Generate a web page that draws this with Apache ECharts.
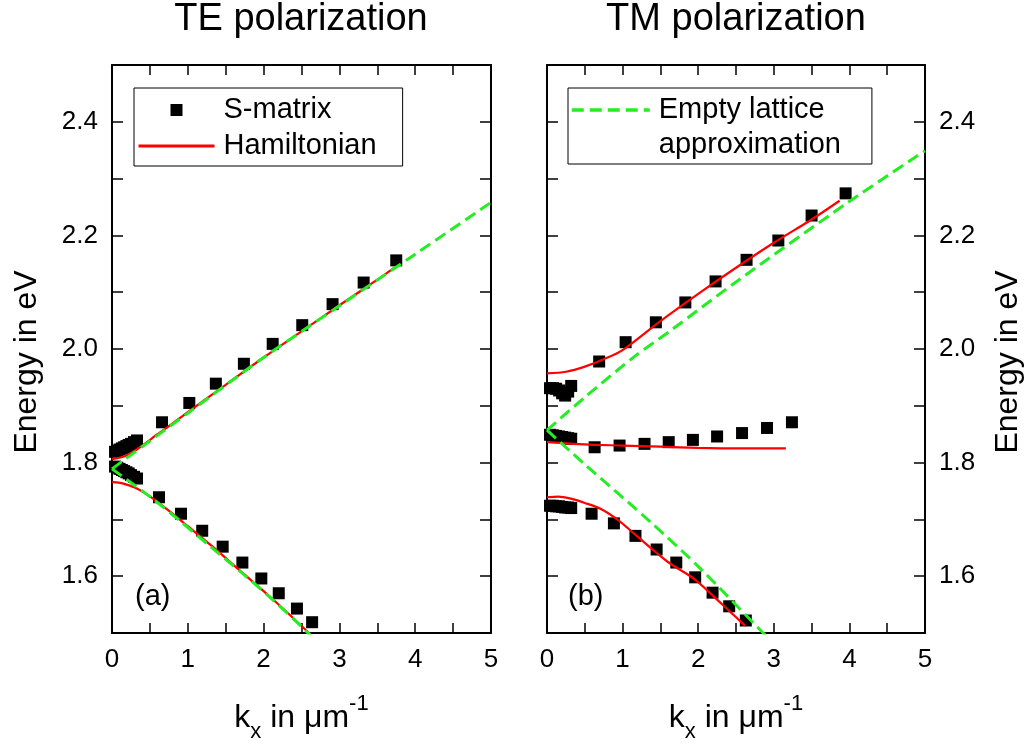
<!DOCTYPE html>
<html>
<head>
<meta charset="utf-8">
<title>TE / TM polarization</title>
<script src="https://cdn.jsdelivr.net/npm/echarts@6/dist/echarts.min.js"></script>
<style>
  html, body { margin: 0; padding: 0; background: #fff; }
  #main { width: 1032px; height: 747px; }
</style>
</head>
<body>
<div id="main"></div>
<script>
// ---- values (k_x in 1/um, energy in eV) ----

// (a) TE polarization
var teSmUpX = [0.04, 0.07, 0.10, 0.13, 0.16, 0.19, 0.22, 0.25, 0.29, 0.33, 0.66, 1.02, 1.37, 1.74, 2.12, 2.51, 2.91, 3.32, 3.75];
var teSmUpY = [1.819, 1.821, 1.823, 1.825, 1.827, 1.829, 1.831, 1.833, 1.836, 1.839, 1.871, 1.905, 1.939, 1.974, 2.009, 2.042, 2.079, 2.117, 2.156];
var teSmLoX = [0.04, 0.07, 0.10, 0.13, 0.16, 0.19, 0.22, 0.25, 0.29, 0.33, 0.62, 0.91, 1.19, 1.46, 1.72, 1.97, 2.20, 2.44, 2.64];
var teSmLoY = [1.793, 1.791, 1.789, 1.787, 1.785, 1.783, 1.781, 1.778, 1.775, 1.772, 1.739, 1.710, 1.680, 1.652, 1.624, 1.596, 1.570, 1.543, 1.519];

var teHamUpX = [0, 0.2, 0.4, 0.6, 0.8, 1.0, 1.5, 2.0, 2.5, 3.0, 3.5, 3.72];
var teHamUpY = [1.806, 1.813, 1.830, 1.850, 1.869, 1.889, 1.937, 1.985, 2.031, 2.077, 2.122, 2.143];
var teHamLoX = [0, 0.15, 0.3, 0.45, 0.6, 0.8, 1.0, 1.3, 1.73, 2.1, 2.48, 2.65];
var teHamLoY = [1.766, 1.763, 1.756, 1.745, 1.731, 1.710, 1.688, 1.655, 1.605, 1.562, 1.515, 1.493];

var teEmptyUpX = [0, 1, 2, 3, 4, 5];
var teEmptyUpY = [1.789, 1.887, 1.985, 2.076, 2.167, 2.258];
var teEmptyLoX = [0, 0.5, 0.9, 1.3, 1.73, 2.1, 2.48, 2.7];
var teEmptyLoY = [1.789, 1.740, 1.697, 1.652, 1.604, 1.561, 1.514, 1.485];

// (b) TM polarization
var tmSmUpX = [0.04, 0.08, 0.12, 0.16, 0.20, 0.24, 0.28, 0.32, 0.69, 1.04, 1.44, 1.83, 2.23, 2.64, 3.06, 3.50, 3.95];
var tmSmUpY = [1.931, 1.931, 1.930, 1.927, 1.922, 1.918, 1.925, 1.935, 1.978, 2.012, 2.047, 2.082, 2.119, 2.157, 2.191, 2.235, 2.274];
var tmSmMidX = [0.04, 0.08, 0.12, 0.16, 0.20, 0.24, 0.28, 0.32, 0.63, 0.96, 1.29, 1.61, 1.93, 2.25, 2.58, 2.91, 3.24];
var tmSmMidY = [1.849, 1.848, 1.847, 1.846, 1.845, 1.844, 1.843, 1.842, 1.827, 1.830, 1.833, 1.836, 1.840, 1.846, 1.852, 1.861, 1.871];
var tmSmLoX = [0.04, 0.08, 0.12, 0.16, 0.20, 0.24, 0.28, 0.32, 0.59, 0.885, 1.17, 1.45, 1.71, 1.96, 2.19, 2.41, 2.63];
var tmSmLoY = [1.724, 1.724, 1.723, 1.723, 1.722, 1.721, 1.721, 1.720, 1.710, 1.693, 1.671, 1.647, 1.624, 1.598, 1.571, 1.547, 1.522];

var tmHamUpX = [0, 0.25, 0.5, 0.75, 1.0, 1.5, 2.0, 2.5, 3.0, 3.5, 3.87];
var tmHamUpY = [1.957, 1.960, 1.969, 1.982, 1.998, 2.049, 2.097, 2.143, 2.187, 2.228, 2.261];
var tmHamMidX = [0, 0.5, 1.0, 1.5, 2.0, 2.5, 3.0, 3.16];
var tmHamMidY = [1.836, 1.832, 1.830, 1.828, 1.826, 1.825, 1.825, 1.825];
var tmHamLoX = [0, 0.15, 0.3, 0.5, 0.72, 0.95, 1.16, 1.6, 1.95, 2.2, 2.41, 2.62];
var tmHamLoY = [1.739, 1.740, 1.737, 1.729, 1.718, 1.698, 1.674, 1.625, 1.595, 1.565, 1.539, 1.513];

var tmEmptyUpX = [0, 0.5, 1.16, 1.64, 2.5, 3.98, 5];
var tmEmptyUpY = [1.857, 1.915, 1.987, 2.033, 2.118, 2.258, 2.349];
var tmEmptyLoX = [0, 0.5, 1.38, 2.04, 2.83, 2.92];
var tmEmptyLoY = [1.857, 1.797, 1.694, 1.612, 1.504, 1.492];

// axis ticks
var kTicks = [0, 1, 2, 3, 4, 5];
var eMin = 1.5, eMax = 2.5, eStep = 0.1;

// ---- chart ----
var FONT = "'Liberation Sans', Arial, sans-serif";
var RED = '#ff0000';
var GREEN = '#22ee22';
var SQUARE = 'path://M0,0H10V10H0Z';
var NO_DOT = { opacity: 0, borderWidth: 0 };

function pairs(xs, ys) {
  return xs.map(function (x, i) { return [x, ys[i]]; });
}

function energyLabel(v) {
  // only every other tick (1.6, 1.8, ...) carries a number
  return Math.round(v * 10) % 2 === 0 ? v.toFixed(1) : '';
}

var axisLine = { show: true, onZero: false, lineStyle: { color: '#000', width: 2 } };
var tickLine = { color: '#000', width: 1.5 };

function kAxis(grid, pos, withLabels) {
  var ax = {
    type: 'value', gridIndex: grid, position: pos,
    min: kTicks[0], max: kTicks[kTicks.length - 1], interval: 1,
    axisLine: axisLine,
    axisTick: { show: true, inside: true, length: 10, lineStyle: tickLine },
    minorTick: { show: true, splitNumber: 2, length: 10, lineStyle: tickLine },
    axisLabel: { show: withLabels, margin: 14, fontSize: 26, color: '#000', fontFamily: FONT },
    splitLine: { show: false },
    minorSplitLine: { show: false }
  };
  if (withLabels) {
    ax.name = '{k|k}{s|x}{k| in μm}{p|-1}';
    ax.nameLocation = 'middle';
    ax.nameGap = 60;
    ax.nameTextStyle = {
      fontFamily: FONT, color: '#000',
      rich: {
        k: { fontSize: 32, lineHeight: 50, fontFamily: FONT, color: '#000' },
        s: { fontSize: 22, lineHeight: 16, verticalAlign: 'bottom', fontFamily: FONT, color: '#000' },
        p: { fontSize: 22, lineHeight: 20, verticalAlign: 'top', fontFamily: FONT, color: '#000' }
      }
    };
  }
  return ax;
}

function eAxis(grid, pos, withLabels, gap) {
  var ax = {
    type: 'value', gridIndex: grid, position: pos,
    min: eMin, max: eMax, interval: eStep,
    axisLine: axisLine,
    axisTick: { show: true, inside: true, length: 11, lineStyle: tickLine },
    axisLabel: { show: withLabels, margin: 14, fontSize: 26, color: '#000', fontFamily: FONT, formatter: energyLabel },
    splitLine: { show: false }
  };
  if (withLabels) {
    ax.name = 'Energy in eV';
    ax.nameLocation = 'middle';
    ax.nameRotate = 90;
    ax.nameGap = gap;
    ax.nameTextStyle = { fontSize: 32, fontFamily: FONT, color: '#000', padding: [0, 26, 0, 0] };
  }
  return ax;
}

function squares(x, y, data) {
  return {
    name: 'S-matrix', type: 'scatter', xAxisIndex: x, yAxisIndex: y,
    symbol: 'rect', symbolSize: 12, itemStyle: { color: '#000', opacity: 1 },
    data: data, z: 3
  };
}

function hamiltonian(x, y, data) {
  return {
    name: 'Hamiltonian', type: 'line', xAxisIndex: x, yAxisIndex: y,
    smooth: 0.3, symbol: 'none', lineStyle: { color: RED, width: 2.2 },
    itemStyle: { color: RED }, data: data, z: 4
  };
}

function emptyLattice(x, y, data) {
  return {
    name: 'Empty lattice approximation', type: 'line', xAxisIndex: x, yAxisIndex: y,
    smooth: 0.3, symbol: 'none',
    lineStyle: { color: GREEN, width: 3, type: [12, 6] },
    itemStyle: { color: GREEN }, data: data, z: 5
  };
}

var chart = echarts.init(document.getElementById('main'), null, { renderer: 'canvas' });

chart.setOption({
  animation: false,
  backgroundColor: '#fff',
  textStyle: { fontFamily: FONT },
  title: [
    { text: 'TE polarization', left: 301, top: 20, padding: 0, textAlign: 'center', textVerticalAlign: 'middle',
      textStyle: { fontSize: 38, fontWeight: 'normal', color: '#000', fontFamily: FONT } },
    { text: 'TM polarization', left: 736, top: 20, padding: 0, textAlign: 'center', textVerticalAlign: 'middle',
      textStyle: { fontSize: 38, fontWeight: 'normal', color: '#000', fontFamily: FONT } }
  ],
  grid: [
    { left: 112, top: 65, width: 379, height: 568, containLabel: false, outerBoundsMode: 'none' },
    { left: 547, top: 65, width: 378, height: 568, containLabel: false, outerBoundsMode: 'none' }
  ],
  xAxis: [
    kAxis(0, 'bottom', true),
    kAxis(0, 'top', false),
    kAxis(1, 'bottom', true),
    kAxis(1, 'top', false)
  ],
  yAxis: [
    eAxis(0, 'left', true, 69),
    eAxis(0, 'right', false),
    eAxis(1, 'left', false),
    eAxis(1, 'right', true, 67)
  ],
  legend: [
    {
      orient: 'vertical', left: 134, top: 88,
      padding: [7, 26, 5, 3], itemGap: 6, itemWidth: 76, itemHeight: 12,
      backgroundColor: '#fff', borderColor: '#000', borderWidth: 1, borderRadius: 0,
      selectedMode: false,
      textStyle: { fontSize: 29, lineHeight: 30, color: '#000', fontFamily: FONT, padding: [0, 0, 0, 4] },
      data: [
        { name: 'S-matrix', icon: SQUARE },
        { name: 'Hamiltonian', itemStyle: NO_DOT, lineStyle: { width: 3 } }
      ]
    },
    {
      orient: 'vertical', left: 568, top: 88,
      padding: [-30.5, 31, 1.5, 2], itemWidth: 78, itemHeight: 12,
      backgroundColor: '#fff', borderColor: '#000', borderWidth: 1, borderRadius: 0,
      selectedMode: false,
      textStyle: { fontSize: 29, lineHeight: 35, color: '#000', fontFamily: FONT, padding: [0, 0, 0, 4] },
      // blank first line keeps "Empty lattice" level with the dashed sample
      formatter: function (name) { return '\n' + name.replace(' approx', '\napprox'); },
      data: [{ name: 'Empty lattice approximation', itemStyle: NO_DOT, lineStyle: { width: 3.5 } }]
    }
  ],
  graphic: [
    { type: 'text', left: 135, top: 582, style: { text: '(a)', fontSize: 29, fontFamily: FONT, fill: '#000' } },
    { type: 'text', left: 568, top: 582, style: { text: '(b)', fontSize: 29, fontFamily: FONT, fill: '#000' } }
  ],
  series: [
    squares(0, 0, pairs(teSmUpX, teSmUpY).concat(pairs(teSmLoX, teSmLoY))),
    hamiltonian(0, 0, pairs(teHamUpX, teHamUpY)),
    hamiltonian(0, 0, pairs(teHamLoX, teHamLoY)),
    emptyLattice(0, 0, pairs(teEmptyUpX, teEmptyUpY)),
    emptyLattice(0, 0, pairs(teEmptyLoX, teEmptyLoY)),

    squares(2, 2, pairs(tmSmUpX, tmSmUpY).concat(pairs(tmSmMidX, tmSmMidY), pairs(tmSmLoX, tmSmLoY))),
    hamiltonian(2, 2, pairs(tmHamUpX, tmHamUpY)),
    hamiltonian(2, 2, pairs(tmHamMidX, tmHamMidY)),
    hamiltonian(2, 2, pairs(tmHamLoX, tmHamLoY)),
    emptyLattice(2, 2, pairs(tmEmptyUpX, tmEmptyUpY)),
    emptyLattice(2, 2, pairs(tmEmptyLoX, tmEmptyLoY))
  ]
});
</script>
</body>
</html>
